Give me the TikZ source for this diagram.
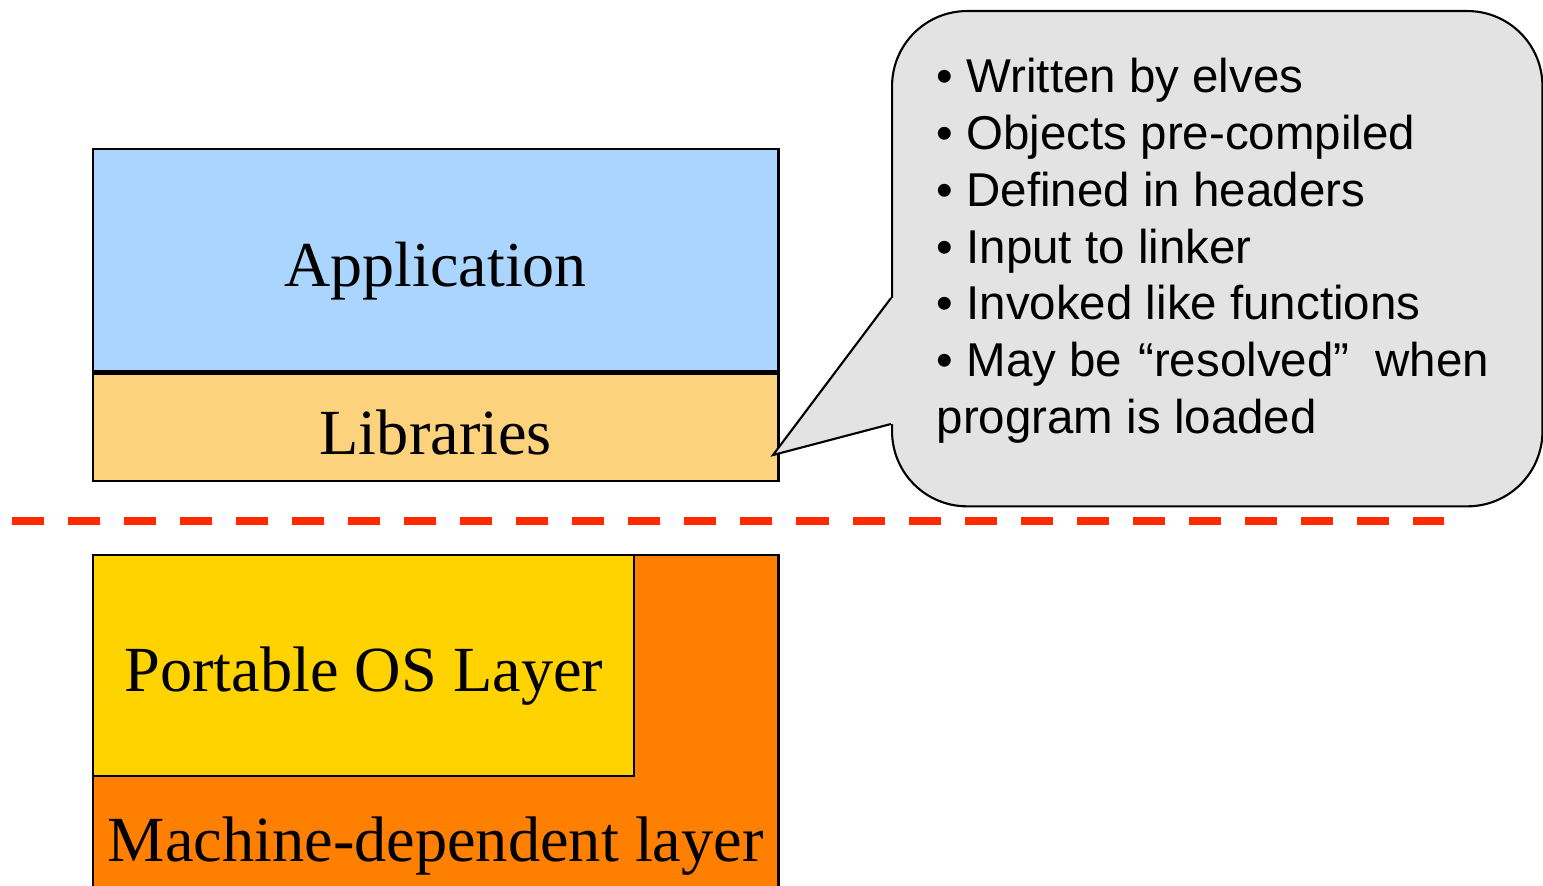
\documentclass[tikz,border=0pt]{standalone}
\usepackage{fontspec}
\setmainfont{Liberation Sans}
\newfontfamily\boxfont{Liberation Serif}
\newfontfamily\notefont{Liberation Sans}
\usepackage{tikz}
\usetikzlibrary{positioning}

\definecolor{appblue}{HTML}{A9D5FF}
\definecolor{libsand}{HTML}{FCD37C}
\definecolor{portyellow}{HTML}{FFD300}
\definecolor{machorange}{HTML}{FF7F00}
\definecolor{notegray}{HTML}{E3E3E3}
\definecolor{cutred}{HTML}{FF2A00}

\begin{document}
\begin{tikzpicture}[x=0.01cm, y=-0.01cm,
    layer/.style={draw, line width=0.6pt, anchor=north west, inner sep=0pt,
      minimum width=6.85cm, text depth=0.15cm},
    big/.style={font=\boxfont\fontsize{18.2}{22}\selectfont},
    mid/.style={font=\boxfont\fontsize{18.3}{22}\selectfont},
    notes/.style={font=\notefont\fontsize{13.5}{16.2}\selectfont, align=left,
      inner sep=0pt, anchor=north west}]
  \useasboundingbox (0,0) rectangle (1543,885);

  % layers above the line
  \node[layer, big, fill=appblue, minimum height=2.22cm, text height=0.67cm] (app) at (92,148) {Application};
  \node[layer, mid, fill=libsand, minimum height=1.10cm, text height=0.71cm] (libs) at (92,370) {Libraries};
  \draw[line width=1.3pt] (app.south west) -- (app.south east);

  % layers below the line
  \node[layer, mid, fill=machorange, minimum height=3.50cm, text height=2.77cm] (machine) at (92,554) {Machine-dependent layer};
  \node[layer, mid, fill=portyellow, minimum width=5.41cm, minimum height=2.21cm, text height=0.66cm] (portable) at (92,554) {Portable OS Layer};

  % the cut
  \coordinate (cutL) at (12,521);
  \coordinate (cutR) at (1444,521);
  \draw[cutred, line width=0.08cm, dash pattern=on 0.32cm off 0.24cm] (cutL) -- (cutR);

  % callout
  \node[draw, line width=0.6pt, fill=notegray, rounded corners=0.75cm, anchor=north west,
    minimum width=6.50cm, minimum height=4.95cm] (callout) at (891,10) {};
  \coordinate (tip) at (773,455);
  \coordinate (ptrtop) at (891,298);
  \coordinate (ptrbot) at (891,424);
  \fill[notegray] (ptrtop) -- (tip) -- (ptrbot) -- ++(3,0) -- ([xshift=0.03cm]ptrtop) -- cycle;
  \draw[line width=0.6pt] (ptrtop) -- (tip) -- (ptrbot);
  \node[notes] (notelist) at (936,57) {%
    • Written by elves\\
    • Objects pre-compiled\\
    • Defined in headers\\
    • Input to linker\\
    • Invoked like functions\\
    • May be \hspace{0.03cm}“resolved”\hspace{0.03cm} \hspace{0.1cm}when\\
    program is loaded};
\end{tikzpicture}
\end{document}
